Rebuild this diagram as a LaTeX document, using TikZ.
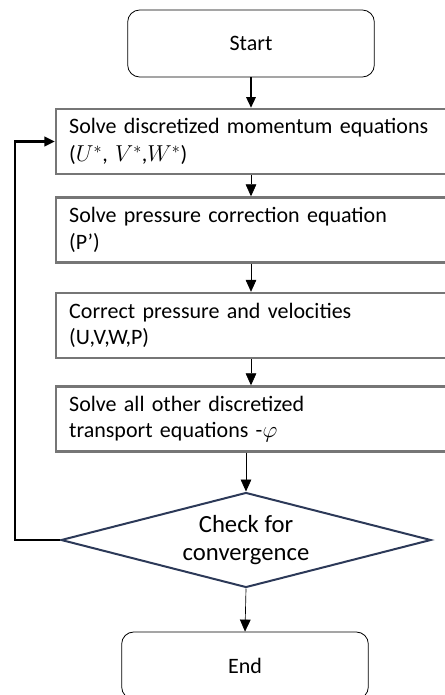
\documentclass[tikz,border=0pt]{standalone}
\usepackage{fontspec}
\setmainfont{Carlito}
\usetikzlibrary{arrows.meta,positioning,shapes.geometric}
\definecolor{boxgray}{RGB}{118,118,118}
\definecolor{navy}{RGB}{44,57,88}

\begin{document}
\begin{tikzpicture}[x=0.75pt, y=-0.75pt,
  every node/.style={font=\fontsize{16.5}{20}\selectfont},
  term/.style={draw, rounded corners=9pt, line width=0.6pt,
               minimum width=185pt, minimum height=50.25pt},
  stepbox/.style={draw=boxgray, line width=1.8pt, anchor=west, align=left,
                  text width=284pt, inner xsep=9.75pt, minimum height=48.75pt},
  check/.style={diamond, aspect=3.9, draw=navy, line width=1.5pt, align=center,
                font=\fontsize{18.5}{21.5}\selectfont,
                minimum width=277.5pt, minimum height=71.25pt, inner sep=0pt},
  arr/.style={-{Triangle[width=8pt,length=9pt]}, line width=0.5pt},
  arrb/.style={-{Triangle[width=7pt,length=8pt]}, line width=1.6pt}]
  \useasboundingbox (0,0) rectangle (445,695);
  \clip (0,0) rectangle (445,695);

  \node[term] (start) at (251,43.5) {Start};
  \node[stepbox] (mom) at (55,141.5) {Solve discretized momentum equations\\[1.5pt] ($U^{*}$, $V^{*}$,$W^{*}$)};
  \node[stepbox] (press) at (55,230) {Solve pressure correction equation\\ (P’)};
  \node[stepbox] (corr) at (55,325.5) {Correct pressure and velocities\\ (U,V,W,P)};
  \node[stepbox] (eqs) at (55,419) {Solve all other discretized\\ transport equations -$\varphi$};
  \node[check] (check) at (246,540) {Check for\\ convergence};
  \node[term] (end) at (245,665.5) {End};
  \coordinate (loop) at (15,540);

  % main line
  \draw[arrb] (start) -- (mom.north -| start);
  \draw[arr] (mom.south -| start) -- (press.north -| start);
  \draw[arr] (press.south -| start) -- (corr.north -| start);
  \draw[arr] (corr.south -| start) -- (eqs.north -| start);
  \draw[arr] (eqs.south -| check.north) -- (check.north);
  \draw[arr] (check.south) -- (end.north);
  % back to the momentum step
  \draw[arrb, line width=2pt] (check.west) -- (loop) |- (mom.west);
\end{tikzpicture}
\end{document}
